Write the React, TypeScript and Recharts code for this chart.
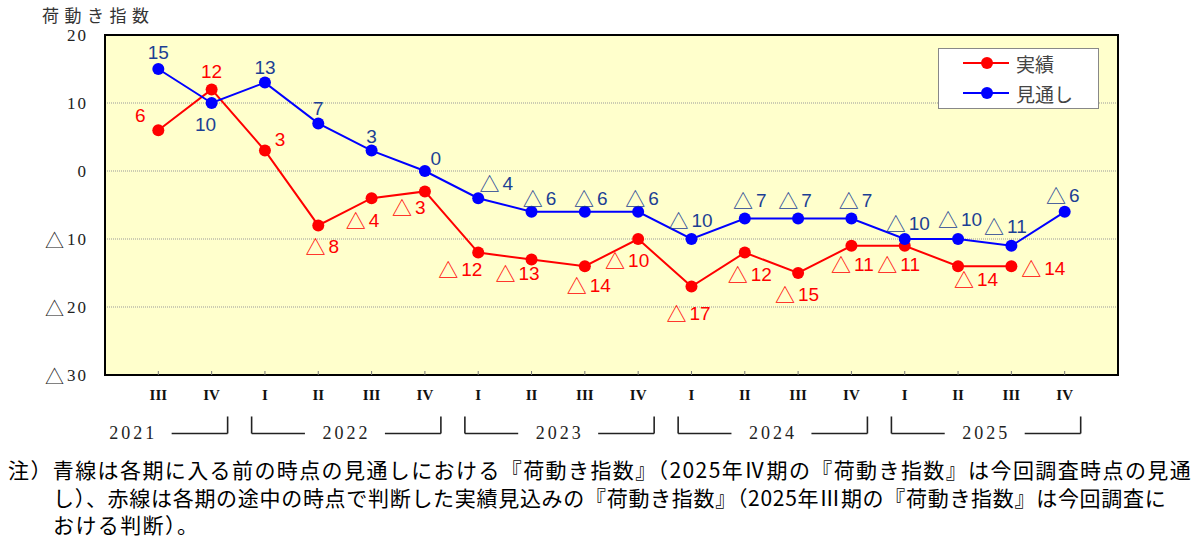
import React from 'react';
import {
  LineChart, Line, XAxis, YAxis, CartesianGrid, ReferenceLine,
  ReferenceDot, ReferenceArea, LabelList, Legend,
} from 'recharts';

// quarters from 2021 III to 2025 IV
const quarters = ['III', 'IV', 'I', 'II', 'III', 'IV', 'I', 'II', 'III', 'IV', 'I', 'II', 'III', 'IV', 'I', 'II', 'III', 'IV'];
const actual = [6, 12, 3, -8, -4, -3, -12, -13, -14, -10, -17, -12, -15, -11, -11, -14, -14, null];
const forecast = [15, 10, 13, 7, 3, 0, -4, -6, -6, -6, -10, -7, -7, -7, -10, -10, -11, -6];
const years = ['2021', '2022', '2023', '2024', '2025'];
// slot of quarter I for each year (2021 starts off the left edge)
const yearFirstSlot = [-1, 3, 7, 11, 15];
const yTicks = [-30, -20, -10, 0, 10, 20];

// label offsets from each point, [dx, dy] in px
const actualLabelOffsets = [
  [-18, -15], [0, -18], [15, -12], [4, 21], [-9, 22], [-16, 16], [-18, 16], [-14, 14], [4, 19],
  [-11, 21], [-3, 26], [5, 21], [-1, 21], [1, 18], [-6, 18], [18, 13], [32, 2],
];
const forecastLabelOffsets = [
  [0, -17], [-6, 21], [0, -16], [0, -15], [0, -15], [11, -13], [18, -15], [8, -14], [6, -14],
  [4, -14], [-1, -19], [5, -19], [-3, -19], [4, -19], [3, -16], [2, -20], [-6, -20], [-2, -17],
];

const data = quarters.map((q, i) => ({
  slot: i + 1,
  quarter: q,
  actual: actual[i],
  forecast: forecast[i],
}));

const RED = '#FF0000';
const BLUE = '#0000FF';
const BLUE_TEXT = '#1C3F94';
const SERIF = "'Liberation Serif', 'DejaVu Serif', serif";
const SANS = "'Liberation Sans', 'Noto Sans CJK JP', sans-serif";
const CJK = "'Noto Sans CJK JP', sans-serif";

// bracket rows below the axis, in y data units
const BR_Y = -38.6;
const BR_TOP = -36.1;

const QuarterTick = ({ x, y, payload }: any) => (
  <g>
    <line x1={x} x2={x} y1={y} y2={y - 4} stroke="#777" strokeWidth={1} />
    <text
      x={x}
      y={y + 20}
      textAnchor="middle"
      dominantBaseline="central"
      fontFamily={SERIF}
      fontWeight="bold"
      fontSize={15}
      fill="#111"
    >
      {quarters[payload.value - 1]}
    </text>
  </g>
);

const ValueTick = ({ x, y, payload }: any) => {
  const v = payload.value as number;
  return (
    <text
      x={x - 17}
      y={y}
      textAnchor="end"
      dominantBaseline="central"
      fontFamily={SERIF}
      fontSize={17}
      letterSpacing={2}
      fill="#222"
    >
      {v < 0 && <tspan fontFamily={CJK} fontWeight={300} fontSize={19}>△</tspan>}
      <tspan dx={v < 0 ? 1 : 0}>{Math.abs(v)}</tspan>
    </text>
  );
};

const makeLabel = (offsets: number[][], color: string) => (props: any) => {
  const { value, index } = props;
  if (value == null) return null;
  const px = props.x ?? props.viewBox?.x;
  const py = props.y ?? props.viewBox?.y;
  const [dx, dy] = offsets[index] ?? [0, -16];
  return (
    <text
      x={px + dx}
      y={py + dy}
      textAnchor="middle"
      dominantBaseline="central"
      fontFamily={SANS}
      fontSize={19}
      fill={color}
    >
      {value < 0 && <tspan fontFamily={CJK} fontSize={20}>△</tspan>}
      <tspan dx={value < 0 ? 3 : 0}>{Math.abs(value)}</tspan>
    </text>
  );
};

const LegendBox = () => (
  <div style={{ width: 161, height: 61, background: '#fff', border: '1px solid #888', boxSizing: 'border-box' }}>
    <svg width={159} height={59} style={{ display: 'block' }}>
      {[{ name: '実績', color: RED, y: 14 }, { name: '見通し', color: BLUE, y: 44 }].map((it) => (
        <g key={it.name}>
          <line x1={24} x2={70} y1={it.y} y2={it.y} stroke={it.color} strokeWidth={2} />
          <circle cx={48} cy={it.y} r={6} fill={it.color} />
          <text x={77} y={it.y} dominantBaseline="central" fontFamily={CJK} fontSize={19} fill="#444">
            {it.name}
          </text>
        </g>
      ))}
    </svg>
  </div>
);

const yearBrackets = years.map((yr, i) => {
  const first = yearFirstSlot[i];
  const last = first + 3;
  const c = (first + last) / 2;
  const l = first - 0.25;
  const r = last + 0.3;
  const segs: { x: number; y: number }[][] = [];
  if (l > 0) {
    segs.push([{ x: l, y: BR_TOP }, { x: l, y: BR_Y }]);
    segs.push([{ x: l, y: BR_Y }, { x: c - 0.75, y: BR_Y }]);
  }
  segs.push([{ x: c + 0.75, y: BR_Y }, { x: r, y: BR_Y }]);
  segs.push([{ x: r, y: BR_Y }, { x: r, y: BR_TOP }]);
  return { yr, c, segs };
});

export default function App() {
  return (
    <div style={{ position: 'absolute', left: 0, top: 0, width: 1200, height: 551, background: '#fff' }}>
      <div
        style={{
          position: 'absolute', left: 42, top: 6, fontFamily: CJK, fontSize: 17,
          letterSpacing: 5.5, color: '#333', lineHeight: '18px', whiteSpace: 'nowrap',
        }}
      >
        荷動き指数
      </div>
      <LineChart
        width={1200}
        height={460}
        data={data}
        margin={{ top: 35, right: 82, bottom: 55, left: 0 }}
      >
        <CartesianGrid
          vertical={false}
          stroke="#999"
          strokeDasharray="1 1"
          fill="#FFFFCC"
          fillOpacity={1}
        />
        <XAxis
          dataKey="slot"
          type="number"
          domain={[0, 19]}
          ticks={data.map((d) => d.slot)}
          interval={0}
          axisLine={false}
          tickLine={false}
          tickSize={0}
          tickMargin={0}
          height={30}
          tick={<QuarterTick />}
        />
        <YAxis
          type="number"
          domain={[-30, 20]}
          ticks={yTicks}
          interval={0}
          axisLine={false}
          tickLine={false}
          tickSize={0}
          tickMargin={0}
          width={105}
          tick={<ValueTick />}
        />
        <ReferenceArea x1={0} x2={19} y1={-30} y2={20} fill="none" stroke="#000" strokeWidth={2} />
        {yearBrackets.map((b) =>
          b.segs.map((s, j) => (
            <ReferenceLine
              key={`${b.yr}-${j}`}
              segment={s}
              ifOverflow="visible"
              stroke="#222"
              strokeWidth={1.6}
            />
          ))
        )}
        {yearBrackets.map((b) => (
          <ReferenceDot
            key={`t-${b.yr}`}
            x={b.c}
            y={BR_Y}
            r={0}
            ifOverflow="visible"
            shape={(p: any) => (
              <text
                x={p.cx + 1.5}
                y={p.cy}
                textAnchor="middle"
                dominantBaseline="central"
                fontFamily={SERIF}
                fontSize={18}
                letterSpacing={3}
                fill="#222"
              >
                {b.yr}
              </text>
            )}
          />
        ))}
        <Line
          dataKey="actual"
          stroke={RED}
          strokeWidth={2}
          dot={{ r: 6, fill: RED, stroke: RED, strokeWidth: 0 }}
          activeDot={false}
          isAnimationActive={false}
        >
          <LabelList dataKey="actual" content={makeLabel(actualLabelOffsets, RED)} />
        </Line>
        <Line
          dataKey="forecast"
          stroke={BLUE}
          strokeWidth={2}
          dot={{ r: 6, fill: BLUE, stroke: BLUE, strokeWidth: 0 }}
          activeDot={false}
          isAnimationActive={false}
        >
          <LabelList dataKey="forecast" content={makeLabel(forecastLabelOffsets, BLUE_TEXT)} />
        </Line>
        <Legend
          layout="horizontal"
          verticalAlign="middle"
          align="center"
          content={<LegendBox />}
          wrapperStyle={{ left: 938, top: 48, width: 161, height: 61 }}
        />
      </LineChart>
      <div
        style={{
          position: 'absolute', left: 8, top: 456, fontFamily: CJK, fontSize: 21,
          letterSpacing: 1.4, lineHeight: '27.5px', color: '#000', whiteSpace: 'nowrap',
        }}
      >
        <div>注）青線は各期に入る前の時点の見通しにおける『荷動き指数』（2025年Ⅳ期の『荷動き指数』は今回調査時点の見通</div>
        <div style={{ paddingLeft: 45, letterSpacing: 0.7 }}>し）、赤線は各期の途中の時点で判断した実績見込みの『荷動き指数』（2025年Ⅲ期の『荷動き指数』は今回調査に</div>
        <div style={{ paddingLeft: 45 }}>おける判断）。</div>
      </div>
    </div>
  );
}
